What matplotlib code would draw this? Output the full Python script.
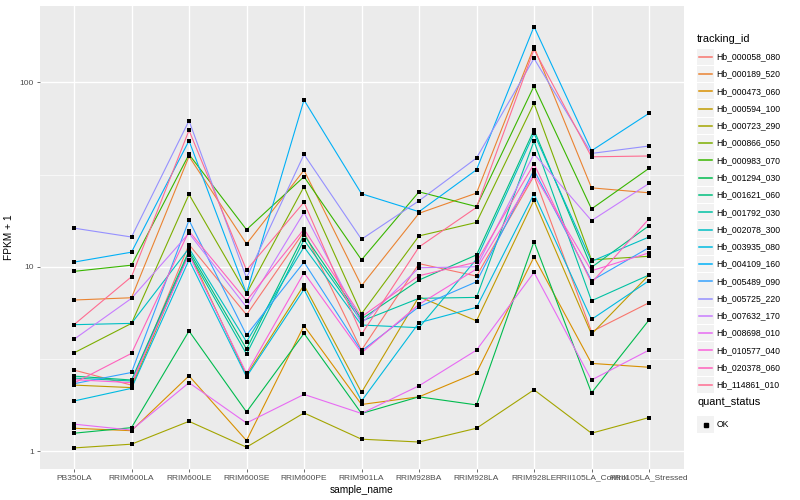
import matplotlib
matplotlib.use("Agg")
import matplotlib.pyplot as plt
from matplotlib.lines import Line2D
from matplotlib.patches import Rectangle
import numpy as np

plt.rcParams['font.family'] = ['Liberation Sans', 'DejaVu Sans']

# ---------------- data ----------------
sample_names = ["PB350LA", "RRIM600LA", "RRIM600LE", "RRIM600SE", "RRIM600PE",
                "RRIM901LA", "RRIM928BA", "RRIM928LA", "RRIM928LE",
                "RRII105LA_Control", "RRII105LA_Stressed"]

tracking_ids = ["Hb_000058_080", "Hb_000189_520", "Hb_000473_060", "Hb_000594_100",
                "Hb_000723_290", "Hb_000866_050", "Hb_000983_070", "Hb_001294_030",
                "Hb_001621_060", "Hb_001792_030", "Hb_002078_300", "Hb_003935_080",
                "Hb_004109_160", "Hb_005489_090", "Hb_005725_220", "Hb_007632_170",
                "Hb_008698_010", "Hb_010577_040", "Hb_020378_060", "Hb_114861_010"]

hb_000058_080 = [2.75, 2.28, 13.2, 5.49, 15.5, 3.53, 10.4, 8.90, 31.1, 4.44, 6.38]
hb_000189_520 = [6.60, 6.79, 39.7, 13.3, 33.4, 7.89, 19.5, 25.1, 156, 26.8, 25.2]
hb_000473_060 = [1.33, 1.29, 2.56, 1.14, 4.79, 1.79, 1.97, 2.66, 11.3, 2.99, 2.85]
hb_000594_100 = [2.28, 2.21, 12.0, 2.58, 7.96, 2.08, 6.88, 5.09, 23.0, 4.31, 9.02]
hb_000723_290 = [1.04, 1.09, 1.45, 1.05, 1.61, 1.16, 1.12, 1.33, 2.15, 1.25, 1.52]
hb_000866_050 = [3.41, 4.93, 24.7, 7.15, 27.2, 5.56, 14.7, 17.4, 77.0, 10.9, 11.4]
hb_000983_070 = [9.44, 10.2, 40.7, 15.9, 30.8, 10.9, 25.5, 21.2, 95.6, 20.6, 34.2]
hb_001294_030 = [1.25, 1.34, 4.48, 1.63, 4.35, 1.60, 1.97, 1.78, 13.7, 2.07, 5.14]
hb_001621_060 = [2.55, 2.43, 12.2, 3.58, 14.9, 5.20, 8.47, 11.6, 55.2, 9.93, 16.7]
hb_001792_030 = [2.49, 2.40, 11.8, 3.36, 14.0, 5.07, 6.74, 6.82, 48.1, 6.54, 9.02]
hb_002078_300 = [4.85, 4.93, 12.6, 3.92, 12.8, 4.83, 4.67, 11.0, 52.9, 10.7, 14.5]
hb_003935_080 = [1.87, 2.19, 10.9, 2.53, 7.54, 1.87, 4.97, 6.02, 24.8, 5.18, 8.40]
hb_004109_160 = [10.6, 12.0, 48.3, 7.17, 80.3, 24.9, 19.9, 33.6, 201, 42.6, 68.0]
hb_005489_090 = [2.32, 2.67, 17.9, 4.26, 10.6, 3.49, 6.07, 8.29, 33.5, 8.40, 12.7]
hb_005725_220 = [16.2, 14.5, 62.0, 8.71, 40.7, 14.1, 22.8, 38.9, 135, 41.2, 45.2]
hb_007632_170 = [4.04, 6.74, 15.2, 6.04, 19.7, 4.93, 9.88, 10.0, 40.9, 17.8, 28.3]
hb_008698_010 = [1.40, 1.30, 2.35, 1.42, 2.03, 1.60, 2.26, 3.53, 9.32, 2.43, 3.53]
hb_010577_040 = [2.44, 2.35, 11.6, 2.64, 9.28, 3.41, 6.25, 9.72, 31.7, 9.51, 11.9]
hb_020378_060 = [2.34, 3.39, 15.6, 6.54, 16.0, 5.35, 8.94, 10.6, 36.1, 8.19, 18.2]
hb_114861_010 = [4.85, 8.83, 55.0, 9.60, 22.4, 4.30, 12.8, 21.0, 151, 39.5, 39.9]

series = [hb_000058_080, hb_000189_520, hb_000473_060, hb_000594_100, hb_000723_290,
          hb_000866_050, hb_000983_070, hb_001294_030, hb_001621_060, hb_001792_030,
          hb_002078_300, hb_003935_080, hb_004109_160, hb_005489_090, hb_005725_220,
          hb_007632_170, hb_008698_010, hb_010577_040, hb_020378_060, hb_114861_010]

colors = ["#F8766D", "#EA8331", "#D89000", "#C09B00", "#A3A500", "#7CAE00", "#39B600",
          "#00BB4E", "#00BF7D", "#00C1A3", "#00BFC4", "#00BAE0", "#00B0F6", "#35A2FF",
          "#9590FF", "#C77CFF", "#E76BF3", "#FA62DB", "#FF62BC", "#FF6C91"]

quant_levels = ["OK"]

# ---------------- figure ----------------
W, H = 800, 500
fig = plt.figure(figsize=(W / 100, H / 100), dpi=100)
fig.patch.set_facecolor("white")

pl, pr, pt, pb = 39.5, 683.5, 5.5, 469.0
ax = fig.add_axes([pl / W, 1 - pb / H, (pr - pl) / W, (pb - pt) / H])
ax.set_facecolor("#EBEBEB")

x = np.arange(len(sample_names))
for vals, c in zip(series, colors):
    ax.plot(x, vals, color=c, lw=0.8, zorder=3, solid_capstyle="butt")
for vals in series:
    ax.scatter(x, vals, marker="s", s=5.0, color="black", zorder=4, linewidths=0)

ax.set_yscale("log")
allv = np.concatenate([np.asarray(s, float) for s in series])
lo, hi = np.log10(allv.min()), np.log10(allv.max())
pad = 0.05 * (hi - lo)
ax.set_ylim(10 ** (lo - pad), 10 ** (hi + pad))
ax.set_xlim(-0.6, len(sample_names) - 1 + 0.6)

ax.set_yticks([1, 10, 100])
ax.set_yticklabels(["1", "10", "100"])
ax.set_yticks([10 ** 0.5, 10 ** 1.5], minor=True)
ax.yaxis.set_minor_formatter(matplotlib.ticker.NullFormatter())
ax.set_xticks(x)
ax.set_xticklabels(sample_names)

ax.grid(True, which="major", color="white", lw=0.95, zorder=1)
ax.grid(True, which="minor", axis="y", color="white", lw=0.45, zorder=1)
ax.set_axisbelow(True)
for s in ax.spines.values():
    s.set_visible(False)

ax.tick_params(axis="both", which="major", length=2.0, width=0.5, color="#333333",
               labelsize=6.0, labelcolor="#4D4D4D", pad=2.0)
ax.tick_params(axis="y", which="minor", length=0)

ax.set_xlabel("sample_name", fontsize=7.3, color="black", labelpad=2.5)
ax.set_ylabel("FPKM + 1", fontsize=7.3, color="black", labelpad=4)

# ---------------- legend (ggplot style) ----------------
def fx(px):
    return px / W

def fy(py):
    return 1 - py / H

key_x0, key_w = 697.0, 17.0
text_x = 716.5
step = 17.28
y0 = 56.7

fig.text(fx(697), fy(38.5), "tracking_id", fontsize=7.9, ha="left", va="center")
for i, (tid, c) in enumerate(zip(tracking_ids, colors)):
    yc = y0 + i * step
    fig.add_artist(Rectangle((fx(key_x0), fy(yc + 8.2)), key_w / W, 16.4 / H,
                             transform=fig.transFigure, facecolor="#F2F2F2",
                             edgecolor="none"))
    fig.add_artist(Line2D([fx(key_x0 + 1.7), fx(key_x0 + key_w - 1.7)], [fy(yc), fy(yc)],
                          transform=fig.transFigure, color=c, lw=1.1))
    fig.text(fx(text_x), fy(yc), tid, fontsize=6.2, ha="left", va="center")

fig.text(fx(697), fy(402), "quant_status", fontsize=7.9, ha="left", va="center")
for i, q in enumerate(quant_levels):
    yc = 424.5 + i * step
    fig.add_artist(Rectangle((fx(key_x0), fy(yc + 8.2)), key_w / W, 16.4 / H,
                             transform=fig.transFigure, facecolor="#F2F2F2",
                             edgecolor="none"))
    fig.add_artist(Line2D([fx(key_x0 + key_w / 2)], [fy(yc)], transform=fig.transFigure,
                          marker="s", markersize=2.4, color="black", lw=0))
    fig.text(fx(text_x), fy(yc), q, fontsize=6.2, ha="left", va="center")

fig.savefig("out.png", dpi=100, facecolor="white")
